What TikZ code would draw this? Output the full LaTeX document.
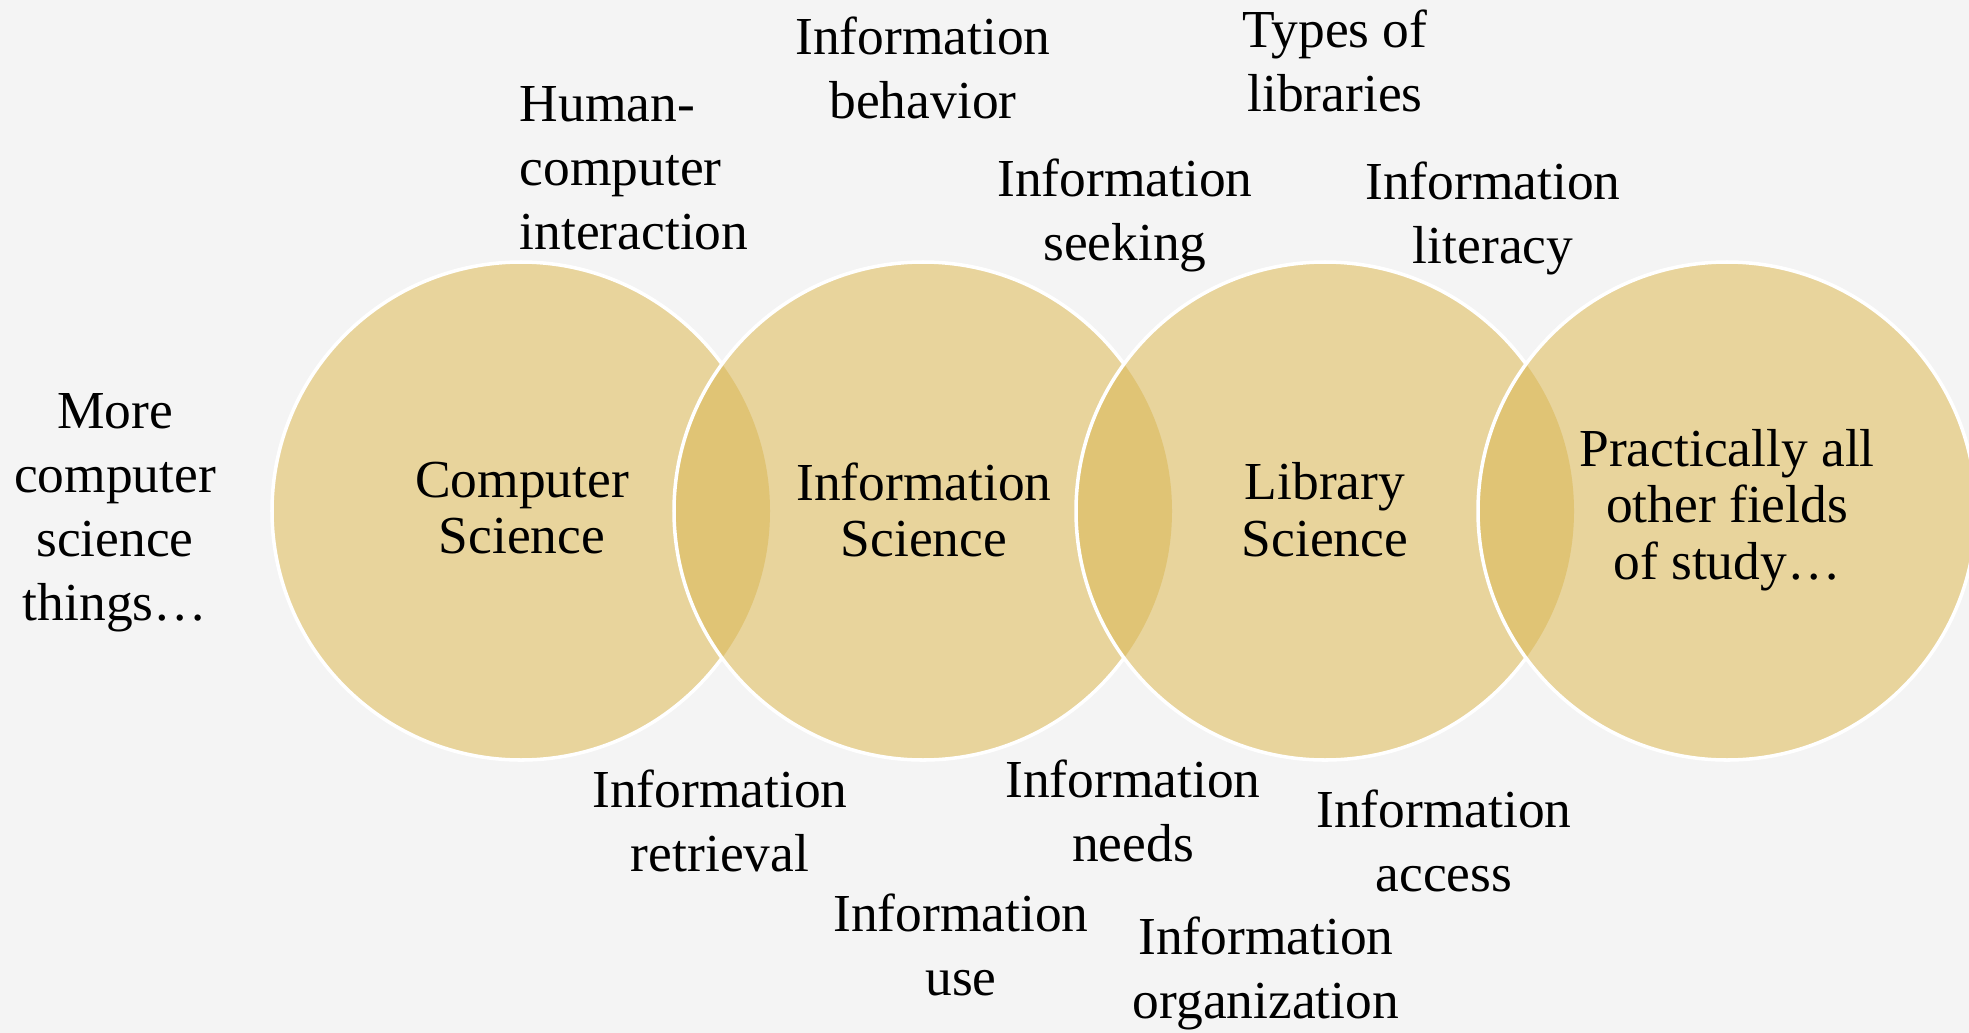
\documentclass[tikz,border=0pt]{standalone}
\usepackage{fontspec}
\setmainfont{Liberation Serif}
\definecolor{bgc}{HTML}{F4F4F4}
\definecolor{circc}{HTML}{E8D49C}
\definecolor{lensc}{HTML}{E0C475}
\begin{document}
\begin{tikzpicture}[x=0.01cm,y=-0.01cm,
  lbl/.style={align=center,inner sep=0pt,font=\fontsize{15.2}{18.2}\selectfont},
  inlbl/.style={align=center,inner sep=0pt,font=\fontsize{15.2}{16.1}\selectfont},
  ring/.style={draw=white,line width=1pt}]
\fill[bgc] (0,0) rectangle (1969,1033);
\useasboundingbox (0,0) rectangle (1969,1033);
\def\R{249}
\coordinate (c1) at (521,511);
\coordinate (c2) at (923,511);
\coordinate (c3) at (1325,511);
\coordinate (c4) at (1727,511);
% circle 1
\fill[circc] (c1) circle[radius=\R];
\draw[ring] (c1) circle[radius=\R];
% circle 2
\fill[circc] (c2) circle[radius=\R];
\begin{scope}\clip (c1) circle[radius=\R]; \fill[lensc] (c2) circle[radius=\R]; \end{scope}
\draw[ring] (c2) circle[radius=\R];
% circle 3
\fill[circc] (c3) circle[radius=\R];
\begin{scope}\clip (c2) circle[radius=\R]; \fill[lensc] (c3) circle[radius=\R]; \end{scope}
\draw[ring] (c3) circle[radius=\R];
% circle 4
\fill[circc] (c4) circle[radius=\R];
\begin{scope}\clip (c3) circle[radius=\R]; \fill[lensc] (c4) circle[radius=\R]; \end{scope}
\draw[ring] (c4) circle[radius=\R];
% circle labels
\node[inlbl] (cs) at (522,508) {Computer\\Science};
\node[inlbl] (is) at (924,510) {Information\\Science};
\node[inlbl] (ls) at (1325,510) {Library\\Science};
\node[inlbl] (pa) at (1727,510) {Practically all\\other fields\\of study\dots};
% outer labels
\node[lbl] (more) at (115,513) {More\\computer\\science\\things\dots};
\node[lbl,align=left,anchor=west] (hci) at (519,168) {Human-\\computer\\interaction};
\node[lbl] (ib) at (923,68) {Information\\behavior};
\node[lbl] (tl) at (1335,61) {Types of\\libraries};
\node[lbl] (isk) at (1125,215) {Information\\seeking};
\node[lbl] (il) at (1493,218) {Information\\literacy};
\node[lbl] (ir) at (720,821) {Information\\retrieval};
\node[lbl] (in) at (1133,811) {Information\\needs};
\node[lbl] (ia) at (1444,841) {Information\\access};
\node[lbl] (iu) at (961,945) {Information\\use};
\node[lbl] (io) at (1266,973) {Information\\organization};
\end{tikzpicture}
\end{document}
